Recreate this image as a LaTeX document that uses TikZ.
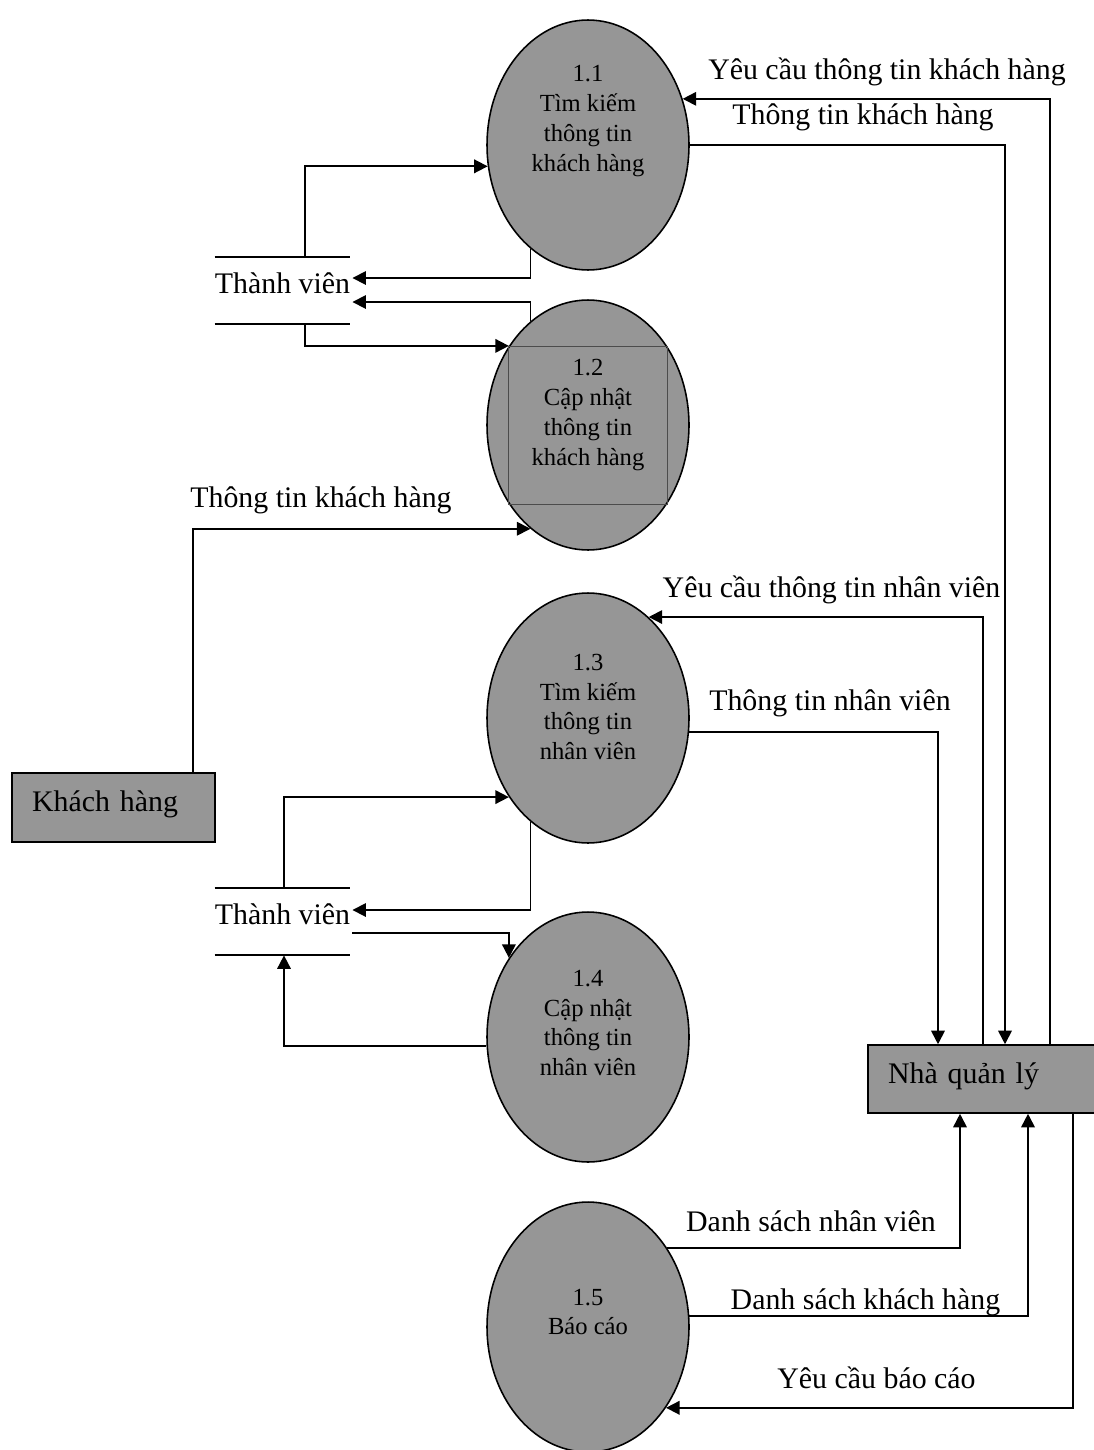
\documentclass[tikz,border=0pt]{standalone}
\usepackage{fontspec}
\setmainfont{Liberation Serif}
\usetikzlibrary{shapes.geometric,arrows.meta,calc}
\definecolor{procgray}{RGB}{150,150,150}
\def\bigtext{\fontsize{17}{20}\selectfont}
\def\smalltext{\fontsize{14}{17}\selectfont}

\begin{document}
\begin{tikzpicture}[x=0.02cm,y=-0.02cm,
  proc/.style={ellipse,draw,line width=0.9pt,fill=procgray,minimum width=4.04cm,minimum height=5cm,inner sep=0pt},
  ptext/.style={align=center,font=\smalltext,inner sep=0pt},
  ent/.style={draw,line width=0.9pt,fill=procgray,inner xsep=0.4cm,inner ysep=0pt,align=left,font=\bigtext,text height=9pt,text depth=4pt},
  store/.style={minimum width=2.7cm,minimum height=1.34cm,inner sep=0pt,font=\bigtext,text height=8pt,text depth=5pt},
  flow/.style={line width=1pt,-{Triangle[length=0.27cm,width=0.27cm]}},
  lbl/.style={anchor=base,font=\bigtext,inner sep=0pt}]
\useasboundingbox (0,0) rectangle (1094,1450);

% processes
\node[proc] (p11) at (588,145) {};
\node[proc] (p12) at (588,425) {};
\node[proc] (p13) at (588,718) {};
\node[proc] (p14) at (588,1037) {};
\node[proc] (p15) at (588,1327) {};
\draw[gray!60!black,line width=0.4pt] ($(p12)+(-80,-79)$) rectangle ($(p12)+(79,79)$);
\node[ptext] (t11) at ($(p11)+(0,-24)$) {1.1\\Tìm kiếm\\thông tin\\khách hàng};
\node[ptext] (t12) at ($(p12)+(0,-10)$) {1.2\\Cập nhật\\thông tin\\khách hàng};
\node[ptext] (t13) at ($(p13)+(0,-11)$) {1.3\\Tìm kiếm\\thông tin\\nhân viên};
\node[ptext] (t14) at ($(p14)+(0,-14)$) {1.4\\Cập nhật\\thông tin\\nhân viên};
\node[ptext] (t15) at ($(p15)+(0,-15)$) {1.5\\Báo cáo};

% entities
\node[ent,text width=3.26cm,minimum height=1.38cm] (kh) at (113.5,807.5) {Khách hàng};
\node[ent,text width=3.84cm,minimum height=1.36cm] (nql) at (984,1079) {Nhà quản lý};

% data stores
\node[store] (s1) at (282.5,290.5) {Thành viên};
\node[store] (s2) at (282.5,921.5) {Thành viên};
\draw[line width=1pt] (s1.north west) -- (s1.north east) (s1.south west) -- (s1.south east);
\draw[line width=1pt] (s2.north west) -- (s2.north east) (s2.south west) -- (s2.south east);

% flows
\draw[flow] ($(s1.north)+(22.5,0)$) |- (p11.192.5);
\draw[flow] (p11.241) |- ($(s1.east)+(2,-12.5)$);
\draw[flow] (p12.119) |- ($(s1.east)+(2,11.5)$);
\draw[flow] ($(s1.south)+(22.5,0)$) |- (p12.135.4);
\draw[flow] ($(kh.north)+(79.5,0)$) |- (p12.241);
\draw[flow] ($(nql.north)+(66,0)$) |- (p11.26.7);
\draw[flow] (p11.east) -| ($(nql.north)+(21,0)$);
\draw[flow] ($(nql.north)+(-1,0)$) |- (p13.59.5);
\draw[flow] (p13.352.6) -| ($(nql.north)+(-46,0)$);
\draw[flow] ($(s2.north)+(1.5,0)$) |- (p13.225.3);
\draw[flow] (p13.241) |- ($(s2.east)+(2,-11.5)$);
\draw[flow] ($(s2.east)+(2,11.5)$) -| (p14.135.4);
\draw[flow] (p14.185.1) -| ($(s2.south)+(1.5,0)$);
\draw[flow] (p15.45.4) -| ($(nql.south)+(-24,0)$);
\draw[flow] (p15.6.3) -| ($(nql.south)+(44,0)$);
\draw[flow] ($(nql.south)+(89,0)$) |- (p15.314.1);

% flow labels
\node[lbl] (l1) at (887,79) {Yêu cầu thông tin khách hàng};
\node[lbl] (l2) at (863,124) {Thông tin khách hàng};
\node[lbl] (l3) at (321,507) {Thông tin khách hàng};
\node[lbl] (l4) at (831.5,597) {Yêu cầu thông tin nhân viên};
\node[lbl] (l5) at (830,710) {Thông tin nhân viên};
\node[lbl] (l6) at (811,1231) {Danh sách nhân viên};
\node[lbl] (l7) at (865.5,1309) {Danh sách khách hàng};
\node[lbl] (l8) at (876.5,1388) {Yêu cầu báo cáo};
\end{tikzpicture}
\end{document}
